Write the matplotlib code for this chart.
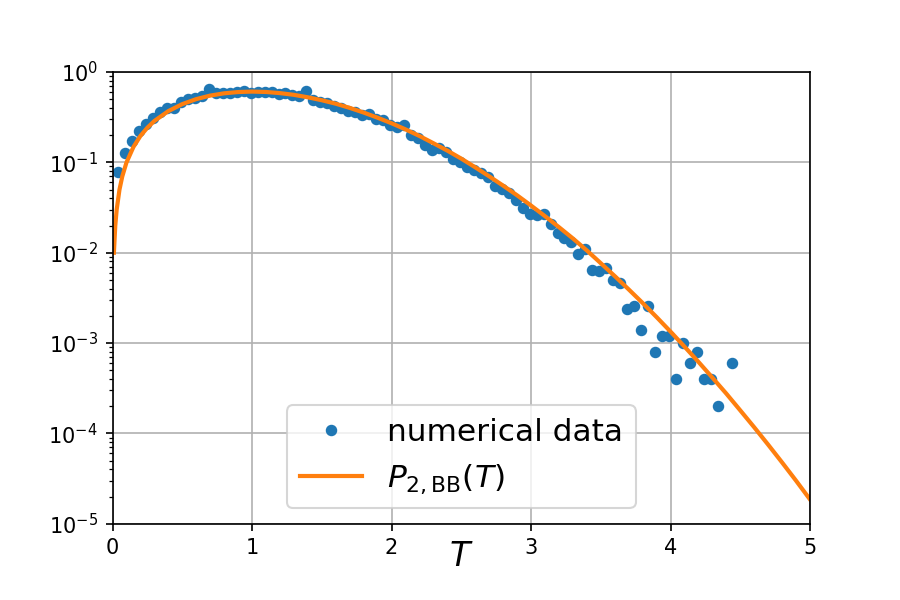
import numpy as np
import matplotlib
matplotlib.use("Agg")
import matplotlib.pyplot as plt

# Histogram of the numerical data (bin positions and normalised counts)
t_data = [0.04, 0.09, 0.14, 0.19, 0.24, 0.29, 0.34, 0.39, 0.44, 0.49,
          0.54, 0.59, 0.64, 0.69, 0.74, 0.79, 0.84, 0.89, 0.94, 0.99,
          1.04, 1.09, 1.14, 1.19, 1.24, 1.29, 1.34, 1.39, 1.44, 1.49,
          1.54, 1.59, 1.64, 1.69, 1.74, 1.79, 1.84, 1.89, 1.94, 1.99,
          2.04, 2.09, 2.14, 2.19, 2.24, 2.29, 2.34, 2.39, 2.44, 2.49,
          2.54, 2.59, 2.64, 2.69, 2.74, 2.79, 2.84, 2.89, 2.94, 2.99,
          3.04, 3.09, 3.14, 3.19, 3.24, 3.29, 3.34, 3.39, 3.44, 3.49,
          3.54, 3.59, 3.64, 3.69, 3.74, 3.79, 3.84, 3.89, 3.94, 3.99,
          4.04, 4.09, 4.14, 4.19, 4.24, 4.29, 4.34, 4.44]
p_data = [0.078, 0.127, 0.172, 0.222, 0.266, 0.31, 0.36, 0.40, 0.40, 0.466,
          0.50, 0.52, 0.54, 0.65, 0.585, 0.59, 0.59, 0.60, 0.62, 0.59,
          0.60, 0.60, 0.60, 0.57, 0.58, 0.55, 0.54, 0.62, 0.49, 0.47,
          0.45, 0.42, 0.40, 0.37, 0.36, 0.335, 0.34, 0.30, 0.295, 0.26,
          0.246, 0.26, 0.20, 0.186, 0.155, 0.137, 0.144, 0.13, 0.109, 0.101,
          0.089, 0.082, 0.076, 0.069, 0.055, 0.051, 0.046, 0.038, 0.031, 0.027,
          0.026, 0.027, 0.021, 0.0165, 0.0145, 0.013, 0.0096, 0.011, 0.0064, 0.0062,
          0.0068, 0.005, 0.0046, 0.0024, 0.0026, 0.0014, 0.0026, 0.0008, 0.0012, 0.0012,
          0.0004, 0.0010, 0.0006, 0.0008, 0.0004, 0.0004, 0.0002, 0.0006]

# Theoretical curve P_{2,BB}(T)
t_curve = [0.01, 0.02, 0.03, 0.05, 0.07, 0.10, 0.15, 0.20, 0.25, 0.30,
           0.40, 0.50, 0.60, 0.70, 0.80, 0.90, 1.00, 1.10, 1.20, 1.30,
           1.40, 1.50, 1.60, 1.70, 1.80, 1.90, 2.00, 2.10, 2.20, 2.30,
           2.40, 2.50, 2.60, 2.70, 2.80, 2.90, 3.00, 3.10, 3.20, 3.30,
           3.40, 3.50, 3.60, 3.70, 3.80, 3.90, 4.00, 4.10, 4.20, 4.30,
           4.40, 4.50, 4.60, 4.70, 4.80, 4.90, 5.00]
p_curve = [0.0100, 0.0200, 0.0300, 0.0499, 0.0698, 0.0995, 0.148, 0.196, 0.242, 0.287,
           0.369, 0.441, 0.501, 0.548, 0.581, 0.600, 0.607, 0.601, 0.584, 0.559,
           0.525, 0.487, 0.446, 0.401, 0.356, 0.312, 0.271, 0.232, 0.196, 0.163,
           0.135, 0.110, 0.0882, 0.0701, 0.0553, 0.0432, 0.0333, 0.0254, 0.0192, 0.0144,
           0.0106, 0.00766, 0.00552, 0.00393, 0.00278, 0.00194, 0.00134, 0.000915, 0.000620, 0.000415,
           0.000276, 0.000180, 0.000117, 0.0000751, 0.0000477, 0.0000300, 0.0000186]

fig, ax = plt.subplots(figsize=(6, 4), dpi=150)
fig.subplots_adjust(left=0.125, right=0.9, top=0.88, bottom=0.127)

ax.plot(t_data, p_data, "o", ms=4.5, label="numerical data")
ax.plot(t_curve, p_curve, "-", lw=2, label=r"$P_{2,\mathrm{BB}}(T)$")

ax.set_yscale("log")
ax.set_xlim(0, 5)
ax.set_ylim(1e-5, 1)
ax.grid(True, which="major")
ax.set_xlabel("$T$", fontsize=16, labelpad=-9)
ax.legend(loc="lower center", fontsize=15)

fig.savefig("out.png", dpi=150)
